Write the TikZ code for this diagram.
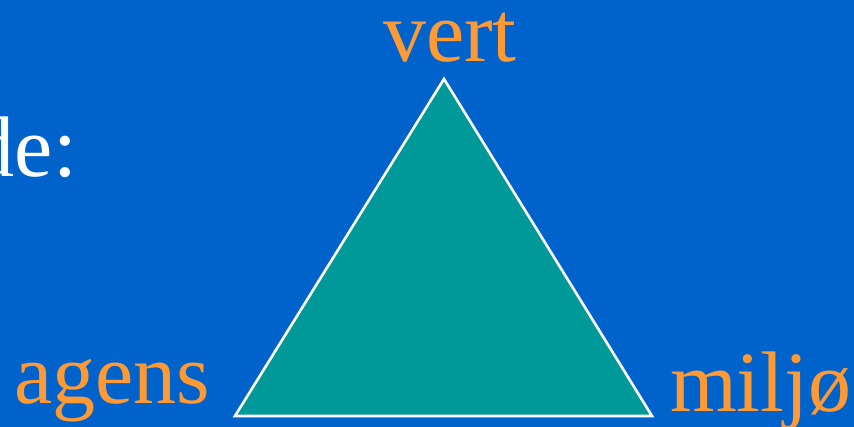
\documentclass[tikz,border=0pt]{standalone}
\usepackage{fontspec}
\setmainfont{Liberation Serif}
\definecolor{bgblue}{HTML}{0063CC}
\definecolor{tealfill}{HTML}{009999}
\definecolor{orangetxt}{HTML}{FF9933}
\begin{document}
\begin{tikzpicture}[x=1pt,y=-1pt,
  lbl/.style={inner sep=0pt,outer sep=0pt,text=orangetxt,font=\fontsize{86}{100}\selectfont},
  wlbl/.style={inner sep=0pt,outer sep=0pt,text=white,font=\fontsize{86}{100}\selectfont}]
\fill[bgblue] (0,0) rectangle (854,427);
\useasboundingbox (0,0) rectangle (854,427);
\coordinate (top) at (444,79);
\coordinate (left) at (235,416);
\coordinate (right) at (652,416);
\draw[white,line width=2.6pt,fill=tealfill,line join=miter] (top) -- (left) -- (right) -- cycle;
\node[lbl,anchor=base] (vert) at (450,62) {vert};
\node[lbl,anchor=base west] (agens) at (14,403) {agens};
\node[lbl,anchor=base west] (miljo) at (670,412) {miljø};
\node[wlbl,anchor=base east] (de) at (77,177) {de:};
\end{tikzpicture}
\end{document}
